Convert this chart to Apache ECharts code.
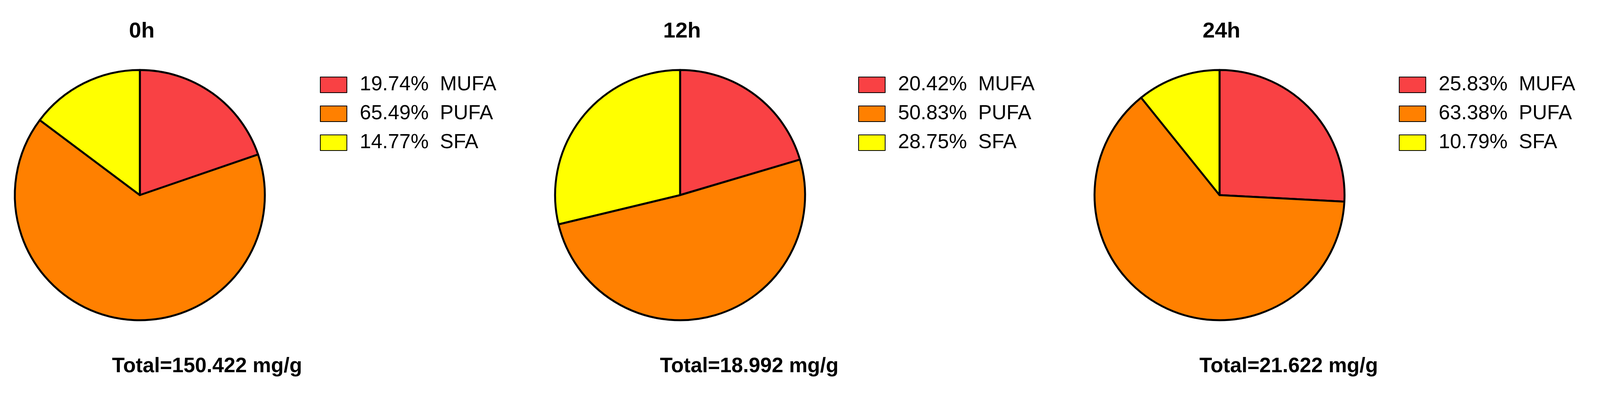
<!DOCTYPE html><html><head><meta charset="utf-8">
<script src="https://cdn.jsdelivr.net/npm/echarts@6/dist/echarts.min.js"></script>
<style>html,body{margin:0;background:#fff}#c{width:4255px;height:1064px}</style></head><body><div id="c"></div>
<script>
const categories=['MUFA','PUFA','SFA'];
const titles=['0h','12h','24h'];
const totals=['Total=150.422 mg/g','Total=18.992 mg/g','Total=21.622 mg/g'];
const values0=[19.74,65.49,14.77];
const values12=[20.42,50.83,28.75];
const values24=[25.83,63.38,10.79];
const colors=['#F94144','#FF8000','#FFFF00'];
const all=[values0,values12,values24];
const cx=[358,1741,3122], cy=499, r=320;
const lx=[814,2192,3576];
const tx=[525,1913,3294];
const chart=echarts.init(document.getElementById('c'));
const font='Liberation Sans, Arial, sans-serif';
const option={animation:false,color:colors,title:[],legend:[],series:[]};
all.forEach((vals,i)=>{
  const names=categories.map((c,j)=>vals[j].toFixed(2)+'%  '+c+'#'+i);
  option.title.push({text:titles[i],left:cx[i],top:48,textAlign:'center',textStyle:{fontFamily:font,fontSize:56,fontWeight:'bold',color:'#000'}});
  option.title.push({text:totals[i],left:tx[i],top:906,textAlign:'center',textStyle:{fontFamily:font,fontSize:53,fontWeight:'bold',color:'#000'}});
  option.legend.push({orient:'vertical',left:lx[i],top:186,itemWidth:68,itemHeight:40,itemGap:22,icon:'rect',
    data:names,formatter:n=>n.split('#')[0],
    textStyle:{fontFamily:font,fontSize:52,color:'#000',padding:[0,0,0,28]},selectedMode:false});
  option.series.push({type:'pie',center:[cx[i],cy],radius:r,startAngle:90,clockwise:true,label:{show:false},labelLine:{show:false},
    silent:true,itemStyle:{borderColor:'#000',borderWidth:5},
    data:names.map((n,j)=>({name:n,value:vals[j],itemStyle:{color:colors[j]}}))});
});
chart.setOption(option);
</script></body></html>
